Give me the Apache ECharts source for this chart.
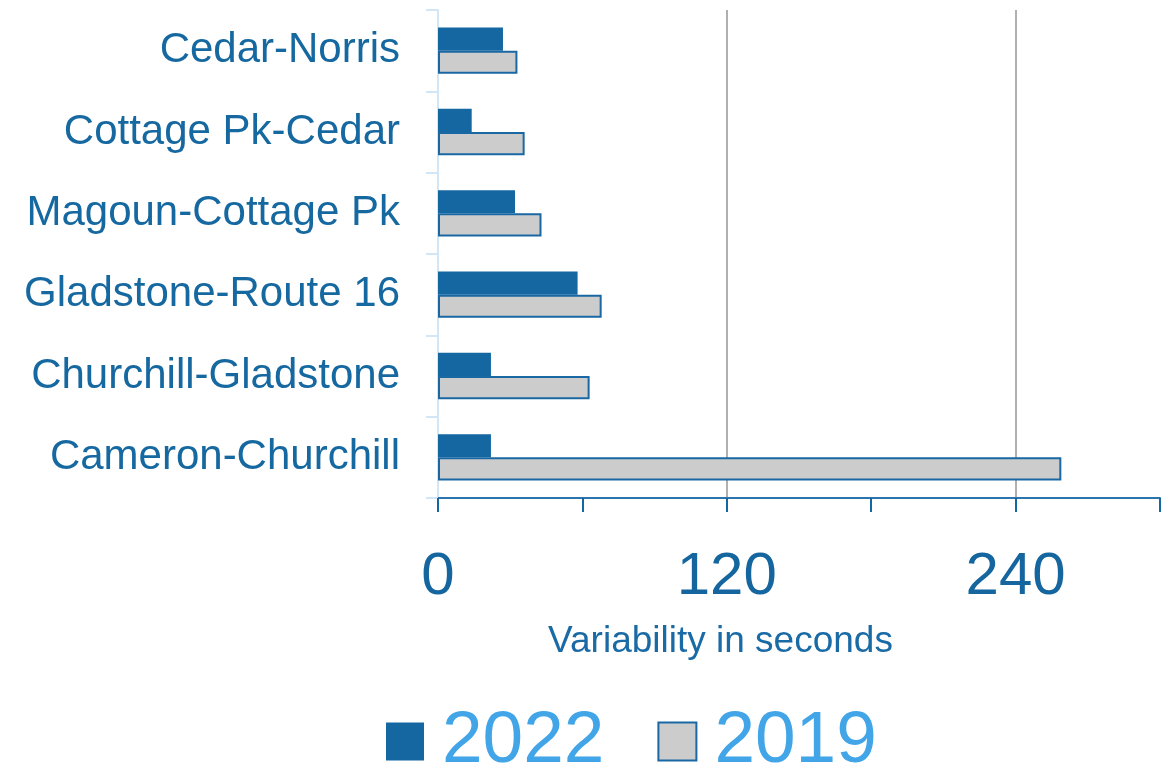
<!DOCTYPE html>
<html>
<head>
<meta charset="utf-8">
<script src="https://cdn.jsdelivr.net/npm/echarts@6/dist/echarts.min.js"></script>
<style>
  html, body { margin: 0; padding: 0; background: #fff; }
  #main { width: 1167px; height: 768px; }
</style>
</head>
<body>
<div id="main"></div>
<script>
// categories listed bottom to top (ECharts y category axis order)
var segments = ['Cameron-Churchill', 'Churchill-Gladstone', 'Gladstone-Route 16', 'Magoun-Cottage Pk', 'Cottage Pk-Cedar', 'Cedar-Norris'];
var values2022 = [22, 22, 58, 32, 14, 27];
var values2019 = [259, 63, 68, 43, 36, 33];
var seriesNames = ['2022', '2019'];
var shownTicks = [0, 120, 240];

var FONT = '"Liberation Sans", Arial, sans-serif';
var DARK = '#1467a1';

var myChart = echarts.init(document.getElementById('main'));

var option = {
    animation: false,
    textStyle: { fontFamily: FONT },
    grid: { left: 438, right: 7, top: 10, bottom: 270 },
    legend: {
        data: seriesNames,
        left: 381,
        top: 700,
        itemWidth: 38,
        itemHeight: 38,
        itemGap: 53,
        icon: 'rect',
        textStyle: { fontSize: 73, color: '#42a5e8', fontFamily: FONT, padding: [0, 0, 0, 13] }
    },
    xAxis: {
        type: 'value',
        min: 0,
        max: 300,
        interval: 60,
        name: 'Variability in seconds',
        nameLocation: 'middle',
        nameGap: 125,
        nameTextStyle: { fontSize: 37, color: '#1a6aa6', fontFamily: FONT, padding: [0, 157, 0, 0] },
        axisLine: { show: true, lineStyle: { color: '#2b74ad', width: 2 } },
        axisTick: { show: true, length: 14, lineStyle: { color: DARK, width: 2 } },
        axisLabel: {
            fontSize: 60,
            color: '#15659e',
            margin: 49,
            fontFamily: FONT,
            formatter: function (v) {
                return shownTicks.indexOf(v) >= 0 ? String(v) : '';
            }
        },
        splitLine: {
            show: true,
            showMinLine: false,
            showMaxLine: false,
            lineStyle: { color: ['transparent', '#b0b0b0'], width: 2 }
        }
    },
    yAxis: {
        type: 'category',
        data: segments,
        axisLine: { show: true, lineStyle: { color: '#d3e6f6', width: 2 } },
        axisTick: { show: true, length: 12, lineStyle: { color: '#d3e6f6', width: 2 } },
        axisLabel: { fontSize: 42, color: '#1668a0', margin: 38, fontFamily: FONT, padding: [12, 0, 0, 0] },
        splitLine: { show: false }
    },
    series: [
        {
            name: '2022',
            type: 'bar',
            data: values2022,
            barGap: '0%',
            barCategoryGap: '43%',
            itemStyle: { color: DARK }
        },
        {
            name: '2019',
            type: 'bar',
            data: values2019,
            barGap: '0%',
            barCategoryGap: '43%',
            itemStyle: { color: '#cccccc', borderColor: '#1a68a3', borderWidth: 2 }
        }
    ]
};

myChart.setOption(option);
</script>
</body>
</html>
